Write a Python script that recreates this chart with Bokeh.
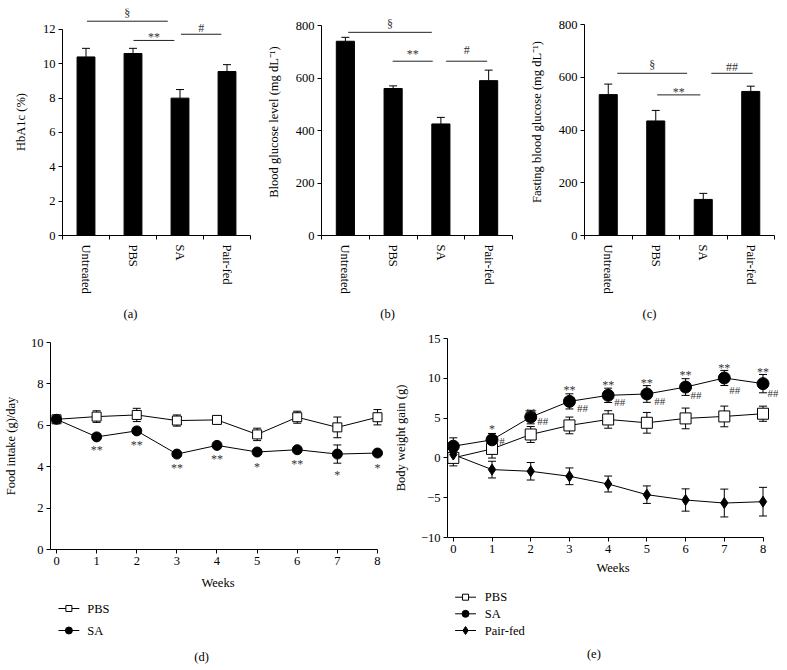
from bokeh.plotting import figure
from bokeh.layouts import row, column
from bokeh.models import (Range1d, FixedTicker, ColumnDataSource, Whisker, TeeHead)
from bokeh.core.properties import value
from bokeh.embed import file_html
from bokeh.resources import INLINE

# ---------------- data ----------------
groups = ["Untreated", "PBS", "SA", "Pair-fed"]

hba1c = [10.4, 10.6, 8.0, 9.55]
hba1c_err = [0.5, 0.3, 0.5, 0.4]
glucose = [740, 560, 425, 590]
glucose_err = [15, 10, 25, 40]
fasting = [535, 435, 137, 547]
fasting_err = [40, 40, 23, 20]

# significance brackets (x in category units, 0..4)
sig_a_x0 = [0.52, 1.51, 2.52]
sig_a_x1 = [2.24, 2.38, 3.38]
sig_a_y = [12.48, 11.36, 11.72]
sig_a_lab = ["§", "**", "#"]
sig_a_ly = [12.95, 11.55, 12.06]

sig_b_x0 = [0.56, 1.49, 2.61]
sig_b_x1 = [2.31, 2.33, 3.47]
sig_b_y = [774, 664, 664]
sig_b_lab = ["§", "**", "#"]
sig_b_ly = [806, 690, 705]

sig_c_x0 = [0.69, 1.53, 2.67]
sig_c_x1 = [2.16, 2.44, 3.54]
sig_c_y = [616, 534, 616]
sig_c_lab = ["§", "**", "##"]
sig_c_ly = [648, 545, 639]

captions_top = ["(a)", "(b)", "(c)"]

weeks = [0, 1, 2, 3, 4, 5, 6, 7, 8]

food_pbs = [6.29, 6.42, 6.5, 6.23, 6.26, 5.56, 6.39, 5.9, 6.39]
food_pbs_err = [0.1, 0.28, 0.32, 0.27, 0.08, 0.3, 0.29, 0.5, 0.37]
food_sa = [6.29, 5.44, 5.73, 4.61, 5.03, 4.71, 4.82, 4.61, 4.66]
food_sa_err = [0.1, 0.1, 0.1, 0.1, 0.1, 0.1, 0.1, 0.44, 0.1]
food_sig_x = [1, 2, 3, 4, 5, 6, 7, 8]
food_sig_lab = ["**", "**", "**", "**", "*", "**", "*", "*"]
food_sig_y = [4.8, 5.05, 3.92, 4.37, 4.0, 4.15, 3.6, 3.92]

bw_pbs = [0.0, 1.13, 2.94, 4.08, 4.83, 4.41, 4.96, 5.21, 5.55]
bw_pbs_err = [1.0, 1.15, 1.0, 1.05, 1.1, 1.3, 1.3, 1.3, 0.95]
bw_sa = [1.47, 2.27, 5.13, 7.1, 7.86, 8.03, 8.9, 10.04, 9.33]
bw_sa_err = [1.05, 0.8, 0.85, 0.95, 0.9, 1.05, 1.05, 0.95, 1.15]
bw_pf = [0.42, -1.47, -1.68, -2.31, -3.28, -4.62, -5.29, -5.67, -5.5]
bw_pf_err = [0.4, 1.05, 1.1, 1.05, 1.0, 1.1, 1.4, 1.75, 1.8]

bw_star_x = [1, 2, 3, 4, 5, 6, 7, 8]
bw_star_lab = ["*", "**", "**", "**", "**", "**", "**", "**"]
bw_star_y = [3.6, 5.7, 8.5, 9.2, 9.4, 10.4, 11.35, 10.8]
bw_hash_x = [1.26, 2.31, 3.34, 4.3, 5.33, 6.27, 7.27, 8.26]
bw_hash_lab = ["#", "##", "##", "##", "##", "##", "##", "##"]
bw_hash_y = [2.18, 4.62, 6.3, 6.97, 7.14, 7.86, 8.57, 8.15]

legend_d = ["PBS", "SA"]
legend_e = ["PBS", "SA", "Pair-fed"]

FONT = "Liberation Serif"
FS = "12.5px"
ANN = "#333333"


def bare(p):
    p.grid.visible = False
    p.outline_line_color = None
    p.background_fill_color = "white"
    p.border_fill_color = "white"


def style(p, label_standoff=10):
    bare(p)
    for ax in p.axis:
        ax.axis_line_color = "black"
        ax.major_tick_line_color = "black"
        ax.minor_tick_line_color = "black"
        ax.major_tick_in = 0
        ax.major_tick_out = 4
        ax.minor_tick_in = 0
        ax.minor_tick_out = 0
        ax.major_label_standoff = 3
        ax.major_label_text_font = FONT
        ax.major_label_text_font_size = FS
        ax.major_label_text_color = "black"
        ax.axis_label_text_font = FONT
        ax.axis_label_text_font_size = FS
        ax.axis_label_text_font_style = "normal"
        ax.axis_label_text_color = "black"
        ax.axis_label_standoff = label_standoff


def bar_panel(width, bl, br, vals, errs, ytop, yticks, ylabel,
              sx0, sx1, sy, slab, sly):
    p = figure(width=width, height=306, x_range=Range1d(0, 4),
               y_range=Range1d(0, ytop), output_backend="svg",
               toolbar_location=None, min_border_left=bl, min_border_right=br,
               min_border_top=8, min_border_bottom=71)
    xs = [i + 0.5 for i in range(len(groups))]
    src = ColumnDataSource(dict(x=xs, top=vals,
                                upper=[v + e for v, e in zip(vals, errs)]))
    p.vbar(x="x", top="top", bottom=0, width=0.38, source=src,
           fill_color="black", line_color="black")
    p.add_layout(Whisker(base="x", upper="upper", lower="top", source=src,
                         upper_head=TeeHead(size=8, line_color="black", line_width=1),
                         lower_head=None, line_color="black", line_width=1))
    p.segment(x0=sx0, y0=sy, x1=sx1, y1=sy, line_color="#222222", line_width=1)
    p.text(x=[(a + b) / 2 for a, b in zip(sx0, sx1)], y=sly, text=slab,
           text_font=value(FONT), text_font_size=value("12px"),
           text_align="center", text_baseline="middle", text_color=ANN)
    style(p, 12)
    p.yaxis.bounds = (yticks[0], yticks[-1])
    p.yaxis.ticker = FixedTicker(ticks=yticks)
    p.yaxis.axis_label = ylabel
    p.xaxis.ticker = FixedTicker(ticks=xs, minor_ticks=[0, 1, 2, 3, 4])
    p.xaxis.major_label_overrides = {x: g for x, g in zip(xs, groups)}
    p.xaxis.major_label_orientation = "vertical"
    p.xaxis.major_tick_out = 0
    p.xaxis.minor_tick_out = 4
    p.xaxis.major_label_standoff = 5
    return p


fa = bar_panel(262, 62, 12, hba1c, hba1c_err, 13.22,
               [0, 2, 4, 6, 8, 10, 12], "HbA1c (%)",
               sig_a_x0, sig_a_x1, sig_a_y, sig_a_lab, sig_a_ly)
fb = bar_panel(263, 59, 13, glucose, glucose_err, 864.8,
               [0, 200, 400, 600, 800], "Blood glucose level (mg dL\u207b\u00b9)",
               sig_b_x0, sig_b_x1, sig_b_y, sig_b_lab, sig_b_ly)
fc = bar_panel(262, 59, 13, fasting, fasting_err, 862,
               [0, 200, 400, 600, 800], "Fasting blood glucose (mg dL\u207b\u00b9)",
               sig_c_x0, sig_c_x1, sig_c_y, sig_c_lab, sig_c_ly)

# caption strip under the bar charts (page pixel coordinates)
cap = figure(width=787, height=26, x_range=Range1d(0, 787), y_range=Range1d(332, 306),
             output_backend="svg", toolbar_location=None, x_axis_location=None,
             y_axis_location=None, min_border_left=0, min_border_right=0,
             min_border_top=0, min_border_bottom=0)
bare(cap)
cap.text(x=[130, 387, 649], y=[313, 313, 313], text=captions_top, text_font=value(FONT),
         text_font_size=value(FS), text_align="center", text_baseline="middle",
         text_color="black")


def whisk(p, x, y, e):
    src = ColumnDataSource(dict(x=x, lo=[a - b for a, b in zip(y, e)],
                                hi=[a + b for a, b in zip(y, e)]))
    w = Whisker(base="x", upper="hi", lower="lo", source=src,
                upper_head=TeeHead(size=8, line_color="black", line_width=1),
                lower_head=TeeHead(size=8, line_color="black", line_width=1),
                line_color="black", line_width=1, level="underlay")
    p.add_layout(w)


# ---------------- (d) food intake ----------------
fd = figure(width=390, height=264, x_range=Range1d(-0.15, 8.2), y_range=Range1d(0, 10),
            output_backend="svg", toolbar_location=None, min_border_left=48,
            min_border_right=5, min_border_top=10, min_border_bottom=47)
whisk(fd, weeks, food_pbs, food_pbs_err)
whisk(fd, weeks, food_sa, food_sa_err)
fd.line(weeks, food_pbs, line_color="black", line_width=1)
fd.line(weeks, food_sa, line_color="black", line_width=1)
fd.scatter(weeks, food_pbs, marker="square", size=9, fill_color="white",
           line_color="black", line_width=1)
fd.scatter(weeks, food_sa, marker="circle", size=10, fill_color="black",
           line_color="black")
fd.text(x=food_sig_x, y=food_sig_y, text=food_sig_lab, text_font=value(FONT),
        text_font_size=value("12px"), text_align="center", text_baseline="middle",
        text_color=ANN)
style(fd, 8)
fd.xaxis.bounds = (-0.15, 8)
fd.xaxis.ticker = FixedTicker(ticks=weeks)
fd.xaxis.axis_label = "Weeks"
fd.yaxis.ticker = FixedTicker(ticks=[0, 2, 4, 6, 8, 10])
fd.yaxis.axis_label = "Food intake (g)/day"
fd.yaxis.axis_label_standoff = 10

# legend + caption strip for (d), in page pixel coordinates
fdl = figure(width=390, height=74, x_range=Range1d(48, 385), y_range=Range1d(670, 596),
             output_backend="svg", toolbar_location=None, x_axis_location=None,
             y_axis_location=None, min_border_left=48, min_border_right=5,
             min_border_top=0, min_border_bottom=0)
bare(fdl)
fdl.segment(x0=[56, 56], y0=[608, 630], x1=[77, 77], y1=[608, 630],
            line_color="black", line_width=1)
fdl.scatter([66.5], [608], marker="square", size=6, fill_color="white", line_color="black")
fdl.scatter([66.5], [630], marker="circle", size=7, fill_color="black", line_color="black")
fdl.text(x=[85, 85], y=[608, 630], text=legend_d, text_font=value(FONT),
         text_font_size=value(FS), text_align="left", text_baseline="middle",
         text_color="black")
fdl.text(x=[200], y=[656.7], text=["(d)"], text_font=value(FONT),
         text_font_size=value(FS), text_align="center", text_baseline="middle",
         text_color="black")

# ---------------- (e) body weight gain ----------------
fe = figure(width=397, height=252, x_range=Range1d(-0.15, 8.4), y_range=Range1d(-10, 15),
            output_backend="svg", toolbar_location=None, min_border_left=54,
            min_border_right=9, min_border_top=6, min_border_bottom=47)
whisk(fe, weeks, bw_pbs, bw_pbs_err)
whisk(fe, weeks, bw_sa, bw_sa_err)
whisk(fe, weeks, bw_pf, bw_pf_err)
fe.line(weeks, bw_pbs, line_color="black", line_width=1)
fe.line(weeks, bw_sa, line_color="black", line_width=1)
fe.line(weeks, bw_pf, line_color="black", line_width=1)
fe.scatter(weeks, bw_pbs, marker="square", size=11, fill_color="white",
           line_color="black", line_width=1)
fe.scatter(weeks, bw_sa, marker="circle", size=12, fill_color="black",
           line_color="black")
fe.scatter(weeks, bw_pf, marker="diamond", size=11, fill_color="black",
           line_color="black")
fe.text(x=bw_star_x, y=bw_star_y, text=bw_star_lab, text_font=value(FONT),
        text_font_size=value("12px"), text_align="center", text_baseline="middle",
        text_color=ANN)
fe.text(x=bw_hash_x, y=bw_hash_y, text=bw_hash_lab, text_font=value(FONT),
        text_font_size=value("11px"), text_align="center", text_baseline="middle",
        text_color=ANN)
style(fe, 5)
fe.xaxis.bounds = (-0.15, 8)
fe.xaxis.ticker = FixedTicker(ticks=weeks)
fe.xaxis.axis_label = "Weeks"
fe.yaxis.ticker = FixedTicker(ticks=[-10, -5, 0, 5, 10, 15])
fe.yaxis.axis_label = "Body weight gain (g)"
fe.yaxis.axis_label_standoff = 10

fel = figure(width=397, height=86, x_range=Range1d(444, 778), y_range=Range1d(670, 584),
             output_backend="svg", toolbar_location=None, x_axis_location=None,
             y_axis_location=None, min_border_left=54, min_border_right=9,
             min_border_top=0, min_border_bottom=0)
bare(fel)
fel.segment(x0=[451.7] * 3, y0=[596.7, 613.3, 630], x1=[472.7] * 3, y1=[596.7, 613.3, 630],
            line_color="black", line_width=1)
fel.scatter([462.2], [596.7], marker="square", size=6, fill_color="white", line_color="black")
fel.scatter([462.2], [613.3], marker="circle", size=7, fill_color="black", line_color="black")
fel.scatter([462.2], [630], marker="diamond", size=8, fill_color="black", line_color="black")
fel.text(x=[481.7] * 3, y=[596.7, 613.3, 630], text=legend_e, text_font=value(FONT),
         text_font_size=value(FS), text_align="left", text_baseline="middle",
         text_color="black")
fel.text(x=[591.7], y=[653.3], text=["(e)"], text_font=value(FONT),
         text_font_size=value(FS), text_align="center", text_baseline="middle",
         text_color="black")

layout = column(row(fa, fb, fc), cap, row(column(fd, fdl), column(fe, fel)))
open("out.html", "w").write(file_html(layout, INLINE))
